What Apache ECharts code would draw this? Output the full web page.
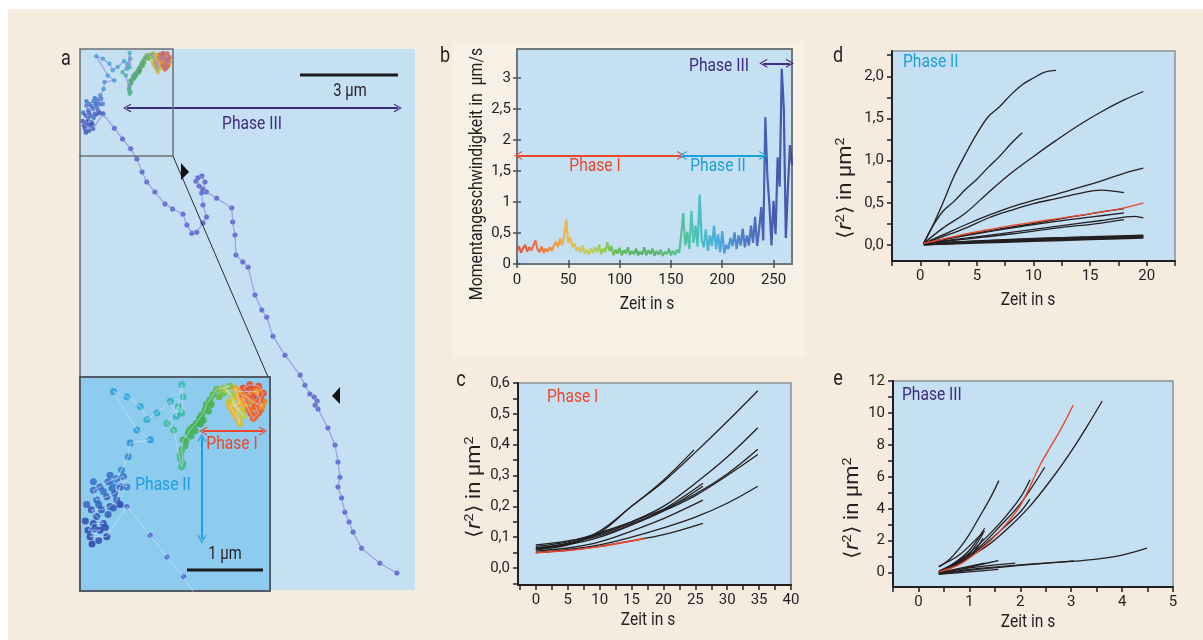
<!DOCTYPE html>
<html>
<head>
<meta charset="utf-8">
<script src="https://cdn.jsdelivr.net/npm/echarts@6.0.0/dist/echarts.min.js"></script>
<style>
html, body { margin: 0; padding: 0; background: #fff; }
#chart { width: 1203px; height: 640px; }
</style>
</head>
<body>
<div id="chart"></div>
<script>
// --- data -------------------------------------------------------------

// panel a: colored part of the trajectory in time order (µm from the top-left corner, time in s)
const clusterX = [2.59, 2.44, 2.54, 2.67, 2.74, 2.69, 2.62, 2.67, 2.59, 2.52, 2.42, 2.49, 2.57, 2.72, 2.64,
  2.37, 2.32, 2.39, 2.24, 2.32, 2.39, 2.34, 2.27, 2.44, 2.19, 2.27, 2.14,
  2.24, 2.04, 1.99, 1.94, 1.89, 1.87, 1.82, 1.79, 1.74, 1.69, 1.64, 1.62, 1.54, 1.52, 1.54, 1.52,
  1.40, 1.30, 1.47, 1.52, 1.54, 1.52, 1.44, 1.35,
  1.15, 1.00, 0.90, 0.70, 0.50, 0.85, 1.05, 0.75, 0.72, 0.62, 0.50, 0.70,
  0.65, 0.55, 0.42, 0.30, 0.20, 0.25, 0.40, 0.52, 0.60, 0.55, 0.45, 0.32, 0.17, 0.25, 0.35, 0.20, 0.12, 0.30, 0.15, 0.40];
const clusterY = [0.30, 0.17, 0.12, 0.14, 0.25, 0.35, 0.45, 0.55, 0.63, 0.50, 0.27, 0.30, 0.37, 0.45, 0.22,
  0.22, 0.17, 0.40, 0.45, 0.58, 0.71, 0.50, 0.37, 0.60, 0.19, 0.27, 0.17,
  0.14, 0.19, 0.27, 0.35, 0.42, 0.50, 0.58, 0.63, 0.71, 0.76, 0.81, 0.86, 0.96, 1.11, 1.32, 1.37,
  0.81, 0.71, 0.45, 0.55, 0.30, 0.12, 0.60, 0.37,
  0.55, 0.65, 0.45, 0.30, 0.22, 0.81, 0.96, 1.01, 1.22, 1.42, 1.62, 1.68,
  1.52, 1.55, 1.60, 1.68, 1.73, 1.88, 1.83, 1.78, 1.68, 1.88, 1.98, 2.03, 2.03, 2.13, 2.24, 2.24, 2.34, 2.34, 2.44, 2.44];
const clusterT = [0, 3, 5, 8, 10, 13, 16, 18, 21, 24, 27, 29, 32, 35, 38,
  41, 44, 47, 50, 54, 58, 62, 66, 70, 74, 78, 82,
  86, 91, 96, 101, 106, 111, 116, 121, 126, 131, 136, 141, 146, 151, 156, 160,
  164, 167, 170, 172, 175, 177, 180, 183,
  186, 188, 191, 193, 196, 198, 201, 203, 205, 207, 210, 212,
  214, 215, 217, 218, 219, 221, 222, 223, 225, 226, 227, 229, 230, 231, 233, 234, 235, 237, 238, 240];

// panel a: more positions inside the dense clusters (points only)
const fillX = [2.50, 2.60, 2.70, 2.65, 2.55, 2.62, 2.70, 2.48, 2.56, 2.68, 2.75, 2.58,
  2.42, 2.46, 2.35, 2.28, 2.36, 2.30, 2.42, 2.22,
  2.14, 2.08, 1.96, 1.92, 1.84, 1.80, 1.72, 1.66, 1.58, 1.57, 1.50, 1.50,
  0.20, 0.35, 0.48, 0.28, 0.10, 0.42, 0.50, 0.22, 0.28, 0.08, 0.38, 0.18, 0.60, 0.45];
const fillY = [0.20, 0.18, 0.30, 0.40, 0.55, 0.60, 0.50, 0.40, 0.25, 0.20, 0.38, 0.48,
  0.32, 0.45, 0.30, 0.52, 0.65, 0.42, 0.52, 0.38,
  0.25, 0.30, 0.42, 0.52, 0.66, 0.72, 0.82, 0.90, 0.98, 1.05, 1.20, 1.25,
  1.60, 1.75, 1.70, 1.95, 1.95, 2.10, 2.00, 2.32, 2.50, 2.20, 2.30, 2.55, 1.95, 1.50];
const fillT = [2, 6, 9, 12, 15, 19, 22, 25, 28, 31, 34, 37,
  42, 45, 48, 52, 56, 60, 64, 68,
  88, 93, 103, 108, 118, 123, 133, 138, 143, 148, 153, 158,
  215, 216, 218, 220, 222, 224, 226, 228, 232, 234, 236, 239, 239, 216];

// panel a: phase III path (µm)
const pathX = [0.70, 1.05, 1.30, 1.55, 1.74, 1.90, 2.04, 2.29, 2.60, 2.83, 3.15, 3.27, 3.42, 3.57, 3.76, 3.87,
  3.76, 3.72, 3.64, 3.55, 3.61, 3.73, 3.82, 3.76, 3.87, 4.18, 4.64, 4.67, 4.74, 4.77, 4.98, 5.14, 5.35,
  5.56, 5.71, 5.90, 6.27, 6.73, 6.88, 7.03, 7.16, 7.25, 7.19, 7.28, 7.58, 7.80, 7.89, 7.95, 7.89, 8.00,
  8.10, 8.23, 8.35, 8.61, 9.17, 9.69];
const pathY = [1.98, 2.42, 2.75, 3.05, 3.36, 3.76, 4.07, 4.37, 4.74, 4.89, 5.05, 5.38, 5.63, 5.60, 5.32, 5.14,
  4.77, 4.40, 4.19, 4.04, 3.94, 3.88, 4.07, 4.28, 4.37, 4.56, 4.86, 5.29, 5.69, 6.30, 6.51, 6.67, 7.52,
  7.98, 8.20, 8.78, 9.36, 9.97, 10.28, 10.55, 10.64, 10.76, 10.89, 11.01, 11.59, 12.11, 12.63, 13.09, 13.39, 13.73,
  14.16, 14.46, 14.77, 15.26, 15.72, 16.02];

// panel b: instantaneous velocity (µm/s), one value every velStep seconds
const velStep = 2;
const velValues = [0.22, 0.28, 0.18, 0.26, 0.31, 0.2, 0.27, 0.22, 0.3, 0.38,
  0.24, 0.19, 0.28, 0.18, 0.25, 0.2, 0.27, 0.21, 0.3, 0.36,
  0.27, 0.41, 0.3, 0.46, 0.72, 0.34, 0.43, 0.27, 0.33, 0.21,
  0.27, 0.19, 0.3, 0.17, 0.23, 0.15, 0.25, 0.18, 0.27, 0.19,
  0.31, 0.16, 0.25, 0.19, 0.35, 0.21, 0.29, 0.14, 0.23, 0.17,
  0.26, 0.14, 0.22, 0.17, 0.27, 0.15, 0.21, 0.16, 0.25, 0.14,
  0.2, 0.15, 0.27, 0.14, 0.22, 0.16, 0.25, 0.13, 0.21, 0.15,
  0.23, 0.13, 0.2, 0.16, 0.25, 0.14, 0.21, 0.15, 0.23, 0.18,
  0.46, 0.82, 0.3, 0.52, 0.24, 0.86, 0.34, 0.62, 0.28, 1.12,
  0.38, 0.27, 0.56, 0.21, 0.46, 0.29, 0.62, 0.24, 0.48, 0.19,
  0.53, 0.17, 0.31, 0.24, 0.42, 0.29, 0.51, 0.24, 0.46, 0.3,
  0.57, 0.27, 0.46, 0.3, 0.62, 0.34, 0.76, 0.29, 0.56, 0.92,
  0.38, 2.37, 1.42, 0.95, 0.3, 1.02, 0.48, 1.72, 1.25, 3.15,
  2.52, 0.42, 1.22, 1.92, 1.6];
const velTicksX = [0, 50, 100, 150, 200, 250];
const velTicksY = [0, 0.5, 1, 1.5, 2, 2.5, 3];
const timeColors = ['#e8432b', '#ee6a2a', '#f3b22a', '#b9cf3a', '#52b448', '#3fae4c',
  '#48b55a', '#3cbfa6', '#2ea7de', '#3d6cc4', '#2f46a6', '#3b3a9c'];

// panel c: MSD curves phase I, [t in s, <r2> in µm2]
const phaseI = [
  [[0, 0.065], [5, 0.078], [10, 0.115], [15, 0.2], [20, 0.28], [25, 0.375], [30, 0.475], [34.8, 0.575]],
  [[0, 0.06], [5, 0.075], [10, 0.12], [15, 0.2], [20, 0.285], [24.8, 0.383]],
  [[0, 0.06], [5, 0.08], [10, 0.11], [15, 0.15], [20, 0.2], [25, 0.275], [30, 0.36], [34.8, 0.455]],
  [[0, 0.07], [5, 0.085], [10, 0.115], [15, 0.15], [20, 0.19], [25, 0.24], [30, 0.305], [34.8, 0.385]],
  [[0, 0.075], [5, 0.088], [10, 0.11], [15, 0.145], [20, 0.185], [25, 0.235], [30, 0.3], [34.8, 0.368]],
  [[0, 0.06], [5, 0.075], [10, 0.1], [15, 0.14], [20, 0.19], [26.2, 0.275]],
  [[0, 0.065], [5, 0.08], [10, 0.105], [15, 0.14], [20, 0.185], [26.2, 0.265]],
  [[0, 0.055], [5, 0.065], [10, 0.085], [15, 0.12], [20, 0.16], [26.2, 0.22]],
  [[0, 0.05], [5, 0.06], [10, 0.075], [15, 0.1], [20, 0.13], [25, 0.165], [30, 0.21], [34.8, 0.265]],
  [[0, 0.05], [5, 0.057], [10, 0.07], [15, 0.088], [20, 0.108], [26.2, 0.145]]
];
const phaseIRed = [[0, 0.05], [5, 0.057], [10, 0.07], [15, 0.088], [17, 0.097]];
const cTicksX = [-2.5, 0, 2.5, 5, 7.5, 10, 12.5, 15, 17.5, 20, 22.5, 25, 27.5, 30, 32.5, 35, 37.5, 40];
const cLabelsX = [0, 5, 10, 15, 20, 25, 30, 35, 40];
const cTicksY = [-0.05, 0, 0.05, 0.1, 0.15, 0.2, 0.25, 0.3, 0.35, 0.4, 0.45, 0.5, 0.55, 0.6];
const cLabelsY = [0, 0.1, 0.2, 0.3, 0.4, 0.5, 0.6];

// panel d: MSD curves phase II
const phaseII = [
  [[0.3, 0.02], [1, 0.2], [2, 0.5], [3, 0.82], [4, 1.08], [5, 1.32], [6, 1.52], [7, 1.64], [8, 1.78], [9, 1.9], [10, 1.98], [11, 2.05], [12, 2.07]],
  [[0.3, 0.02], [1, 0.2], [2, 0.4], [3, 0.52], [4, 0.66], [5, 0.78], [6, 0.92], [7, 1.05], [8, 1.2], [9, 1.33]],
  [[0.3, 0.02], [2, 0.2], [4, 0.38], [6, 0.62], [8, 0.85], [10, 1.05], [12, 1.24], [14, 1.42], [16, 1.58], [18, 1.72], [19.7, 1.82]],
  [[0.3, 0.02], [2, 0.12], [4, 0.24], [6, 0.35], [8, 0.45], [10, 0.53], [12, 0.6], [14, 0.68], [16, 0.76], [18, 0.85], [19.7, 0.91]],
  [[0.3, 0.02], [2, 0.1], [4, 0.2], [6, 0.32], [8, 0.41], [10, 0.49], [12, 0.55], [14, 0.61], [16, 0.65], [18, 0.62]],
  [[0.3, 0.02], [4, 0.12], [8, 0.21], [12, 0.3], [15, 0.37], [18, 0.43]],
  [[0.3, 0.02], [4, 0.11], [8, 0.2], [12, 0.28], [15, 0.33], [18, 0.38]],
  [[0.3, 0.02], [4, 0.08], [8, 0.15], [12, 0.22], [16, 0.29], [19, 0.34], [19.7, 0.32]],
  [[0.3, 0.02], [4, 0.07], [8, 0.13], [12, 0.2], [16, 0.26], [18, 0.3]]
];
const phaseIIThick = [
  [[0.3, 0.01], [5, 0.04], [10, 0.07], [15, 0.09], [19.7, 0.11]],
  [[0.3, 0.01], [5, 0.03], [10, 0.05], [15, 0.07], [19.7, 0.09]],
  [[0.3, 0.01], [6, 0.045], [12, 0.075], [19.7, 0.1]]
];
const phaseIIRed = [[0.3, 0.02], [2, 0.07], [4, 0.13], [6, 0.18], [8, 0.23], [10, 0.27], [12, 0.31], [14, 0.35], [16, 0.39], [18, 0.44], [19.7, 0.5]];
const dTicksX = [-2.5, 0, 2.5, 5, 7.5, 10, 12.5, 15, 17.5, 20, 22.5];
const dLabelsX = [0, 5, 10, 15, 20];
const dTicksY = [0, 0.25, 0.5, 0.75, 1, 1.25, 1.5, 1.75, 2, 2.25];
const dLabelsY = [0, 0.5, 1, 1.5, 2];

// panel e: MSD curves phase III
const phaseIII = [
  [[0.4, 0.35], [0.6, 0.8], [0.8, 1.5], [1.0, 2.4], [1.2, 3.5], [1.4, 4.6], [1.58, 5.76]],
  [[0.4, 0.0], [0.9, 0.8], [1.4, 1.8], [1.8, 2.9], [2.2, 4.2], [2.6, 5.8], [3.0, 7.6], [3.3, 9.1], [3.61, 10.75]],
  [[0.4, 0.05], [0.8, 0.7], [1.2, 1.6], [1.6, 2.9], [2.0, 4.3], [2.48, 6.6]],
  [[0.4, 0.05], [0.8, 0.75], [1.2, 1.8], [1.6, 3.1], [2.0, 4.7], [2.19, 5.82]],
  [[0.4, 0.0], [0.8, 0.6], [1.2, 1.5], [1.6, 2.6], [2.0, 3.8], [2.19, 4.6]],
  [[0.4, 0.1], [0.7, 0.6], [1.0, 1.4], [1.3, 2.78]],
  [[0.4, 0.05], [0.7, 0.5], [1.0, 1.2], [1.27, 2.47]],
  [[0.4, 0.0], [0.7, 0.4], [1.0, 1.0], [1.27, 2.15]],
  [[0.4, 0.4], [0.8, 1.1], [1.2, 2.3], [1.3, 2.6]],
  [[0.4, -0.1], [1.0, 0.2], [1.5, 0.35], [2.0, 0.48], [2.5, 0.6], [3.0, 0.7], [3.5, 0.85], [4.0, 1.1], [4.49, 1.53]],
  [[0.4, -0.1], [1.0, 0.15], [2.0, 0.45], [3.05, 0.73]],
  [[0.4, -0.1], [1.0, 0.35], [1.57, 0.75]],
  [[0.4, -0.05], [1.0, 0.3], [1.9, 0.6]],
  [[0.4, 0.0], [1.3, 0.6]],
  [[0.4, -0.1], [1.0, 0.05], [1.57, 0.2]]
];
const phaseIIIRed = [[0.4, 0.05], [0.8, 0.5], [1.2, 1.4], [1.6, 2.6], [2.0, 4.2], [2.4, 6.8], [2.8, 9.0], [3.04, 10.5]];
const eTicksX = [-0.5, 0, 0.5, 1, 1.5, 2, 2.5, 3, 3.5, 4, 4.5, 5];
const eLabelsX = [0, 1, 2, 3, 4, 5];
const eTicksY = [0, 1, 2, 3, 4, 5, 6, 7, 8, 9, 10, 11, 12];
const eLabelsY = [0, 2, 4, 6, 8, 10, 12];

// --- styling helpers ---------------------------------------------------

const FONT = 'Roboto, sans-serif';
const SQUEEZE = 0.82; // the original uses a condensed face
const INK = '#231f20';
const RED = '#e8482c';
const CYAN = '#1d9fdc';
const PURPLE = '#3d2c7d';
const chevron = 'path://M0,10 L5,0 L10,10 L8.6,10 L5,2.6 L1.4,10 Z';
const comma1 = v => v.toFixed(1).replace('.', ',');
const commaShort = v => (Number.isInteger(v) ? String(v) : String(v).replace('.', ','));

function hiddenAxis(grid, min, max, inverse) {
  return { type: 'value', gridIndex: grid, min, max, inverse: !!inverse, show: false };
}

function msdAxis(grid, min, max, ticks, labels, fmt) {
  return {
    type: 'value', gridIndex: grid, min, max,
    splitLine: { show: false },
    axisLine: { show: true, onZero: false, lineStyle: { color: INK, width: 2 } },
    axisTick: { show: true, inside: false, length: 5, customValues: ticks, lineStyle: { color: INK, width: 1.5 } },
    axisLabel: { customValues: labels, formatter: fmt, color: INK, fontFamily: FONT, fontSize: 15, margin: 8 }
  };
}

function curves(list, grid, color, width, z) {
  return list.map(pts => ({
    type: 'line', xAxisIndex: grid, yAxisIndex: grid, data: pts, smooth: 0.35,
    symbol: 'none', silent: true, z: z, lineStyle: { color: color, width: width }
  }));
}

function label(text, x, y, color, size, align) {
  return {
    type: 'text', x, y, z: 100, scaleX: SQUEEZE,
    style: { text, fill: color, fontFamily: FONT, fontSize: size, align: align || 'center', verticalAlign: 'middle' }
  };
}

function msdName(x, y) {
  return {
    type: 'text', x, y, z: 100, rotation: Math.PI / 2, scaleX: 1.1,
    style: {
      text: '{n|⟨}{i|r}{s|2}{n|⟩ in µm}{s|2}',
      fill: INK, fontFamily: FONT, fontSize: 20, align: 'center', verticalAlign: 'middle',
      rich: {
        n: { fontFamily: FONT, fontSize: 20, fill: INK, lineHeight: 24 },
        i: { fontFamily: FONT, fontSize: 20, fontStyle: 'italic', fill: INK, lineHeight: 24 },
        s: { fontFamily: FONT, fontSize: 13, fill: INK, verticalAlign: 'top', lineHeight: 14 }
      }
    }
  };
}

// --- chart -------------------------------------------------------------

const chart = echarts.init(document.getElementById('chart'));

const clusterData = clusterX.map((x, i) => [x, clusterY[i], clusterT[i]]);
const fillData = fillX.map((x, i) => [x, fillY[i], fillT[i]]);
const pathData = pathX.map((x, i) => [x, pathY[i]]);
const lineData = clusterData.map(d => [d[0], d[1]]).concat(pathData);
const velData = velValues.map((v, i) => [i * velStep, v]);
const pathStyle = { color: '#2f52c2', borderColor: 'rgba(190,150,230,0.6)', borderWidth: 0.8 };

const option = {
  animation: false,
  backgroundColor: '#ffffff',
  grid: [
    { left: 80, top: 49, width: 335, height: 541, show: true, backgroundColor: '#c6e0f3', borderWidth: 0 },
    { left: 80, top: 377, width: 190, height: 214, show: true, backgroundColor: '#8dcbef', borderColor: '#545b62', borderWidth: 2 },
    { left: 517, top: 49, width: 275, height: 215, show: true, backgroundColor: '#c6e0f3', borderColor: '#6f767c', borderWidth: 2 },
    { left: 518, top: 383, width: 273, height: 202, show: true, backgroundColor: '#c6e0f3', borderColor: '#8a9096', borderWidth: 1.5 },
    { left: 892, top: 51, width: 283, height: 210, show: true, backgroundColor: '#c6e0f3', borderColor: '#8a9096', borderWidth: 1.5 },
    { left: 893, top: 381, width: 280, height: 206, show: true, backgroundColor: '#c6e0f3', borderColor: '#8a9096', borderWidth: 1.5 }
  ],
  xAxis: [
    hiddenAxis(0, 0, 10.245),
    hiddenAxis(1, 0, 2.84),
    {
      type: 'value', gridIndex: 2, min: 0, max: 268, splitLine: { show: false },
      axisLine: { show: false },
      axisTick: { show: true, inside: true, length: 4, customValues: velTicksX, lineStyle: { color: '#4a5056', width: 1.5 } },
      axisLabel: { customValues: velTicksX, color: INK, fontFamily: FONT, fontSize: 15, margin: 9 }
    },
    msdAxis(3, -2.8, 40, cTicksX, cLabelsX, v => String(v)),
    msdAxis(4, -2.5, 22.5, dTicksX, dLabelsX, v => String(v)),
    msdAxis(5, -0.5, 5, eTicksX, eLabelsX, v => String(v)),
    {
      type: 'value', gridIndex: 2, position: 'top', min: 0, max: 268, splitLine: { show: false },
      axisLine: { show: false }, axisLabel: { show: false },
      axisTick: { show: true, inside: true, length: 4, customValues: velTicksX, lineStyle: { color: '#4a5056', width: 1.5 } }
    }
  ],
  yAxis: [
    hiddenAxis(0, 0, 16.54, true),
    hiddenAxis(1, 0, 3.27, true),
    {
      type: 'value', gridIndex: 2, min: 0, max: 3.47, splitLine: { show: false },
      axisLine: { show: false },
      axisTick: { show: true, inside: true, length: 4, customValues: velTicksY, lineStyle: { color: '#4a5056', width: 1.5 } },
      axisLabel: { customValues: velTicksY, formatter: commaShort, color: INK, fontFamily: FONT, fontSize: 15, margin: 6 }
    },
    msdAxis(3, -0.055, 0.6, cTicksY, cLabelsY, comma1),
    msdAxis(4, -0.19, 2.3, dTicksY, dLabelsY, comma1),
    msdAxis(5, -0.9, 12, eTicksY, eLabelsY, v => String(v)),
    {
      type: 'value', gridIndex: 2, position: 'right', min: 0, max: 3.47, splitLine: { show: false },
      axisLine: { show: false }, axisLabel: { show: false },
      axisTick: { show: true, inside: true, length: 4, customValues: velTicksY, lineStyle: { color: '#4a5056', width: 1.5 } }
    }
  ],
  visualMap: [
    { type: 'continuous', show: false, seriesIndex: 8, dimension: 0, min: 0, max: 268, inRange: { color: timeColors } },
    { type: 'continuous', show: false, seriesIndex: [1, 2, 5, 6], dimension: 2, min: 0, max: 268, inRange: { color: timeColors } }
  ],
  series: [
    // 0-3: panel a, full view
    { type: 'line', xAxisIndex: 0, yAxisIndex: 0, data: lineData, symbol: 'none', silent: true,
      lineStyle: { color: 'rgba(140,135,220,0.75)', width: 1.2 } },
    { type: 'scatter', xAxisIndex: 0, yAxisIndex: 0, data: fillData, symbolSize: 4.5, silent: true },
    { type: 'scatter', xAxisIndex: 0, yAxisIndex: 0, data: clusterData, symbolSize: 4.5, silent: true },
    { type: 'scatter', xAxisIndex: 0, yAxisIndex: 0, data: pathData, symbolSize: 5, silent: true, itemStyle: pathStyle,
      markLine: {
        silent: true, symbol: [chevron, chevron], symbolSize: [9, 8], label: { show: false },
        lineStyle: { color: PURPLE, width: 2, type: 'solid' },
        data: [[{ coord: [1.44, 1.8] }, { coord: [9.72, 1.8] }]]
      } },
    // 4-7: panel a, inset
    { type: 'line', xAxisIndex: 1, yAxisIndex: 1, data: lineData, symbol: 'none', silent: true,
      lineStyle: { color: 'rgba(215,225,250,0.6)', width: 1 } },
    { type: 'scatter', xAxisIndex: 1, yAxisIndex: 1, data: fillData, symbolSize: 7, silent: true, itemStyle: { opacity: 0.9 } },
    { type: 'scatter', xAxisIndex: 1, yAxisIndex: 1, data: clusterData, symbolSize: 7, silent: true, itemStyle: { opacity: 0.9 },
      markLine: {
        silent: true, symbol: [chevron, chevron], symbolSize: [9, 8], label: { show: false },
        data: [
          [{ coord: [1.84, 0.825], lineStyle: { color: RED, width: 2, type: 'solid' } }, { coord: [2.74, 0.825] }],
          [{ coord: [1.82, 0.93], lineStyle: { color: CYAN, width: 2, type: 'solid' } }, { coord: [1.82, 2.48] }]
        ]
      } },
    { type: 'scatter', xAxisIndex: 1, yAxisIndex: 1, data: pathData, symbolSize: 5, silent: true, itemStyle: pathStyle },
    // 8: panel b velocity
    { type: 'line', xAxisIndex: 2, yAxisIndex: 2, data: velData, symbol: 'none', silent: true,
      lineStyle: { width: 2.2, opacity: 0.85 },
      markLine: {
        silent: true, symbol: [chevron, chevron], symbolSize: [9, 8], label: { show: false },
        data: [
          [{ coord: [1, 1.75], lineStyle: { color: RED, width: 2, type: 'solid' } }, { coord: [160, 1.75] }],
          [{ coord: [161.5, 1.75], lineStyle: { color: CYAN, width: 2, type: 'solid' } }, { coord: [240, 1.75] }],
          [{ coord: [240, 3.24], lineStyle: { color: PURPLE, width: 2, type: 'solid' } }, { coord: [266, 3.24] }]
        ]
      } }
  ]
    .concat(curves(phaseI, 3, INK, 1.3, 3))
    .concat(curves([phaseIRed], 3, RED, 1.6, 4))
    .concat(curves(phaseII, 4, INK, 1.3, 3))
    .concat(curves(phaseIIThick, 4, INK, 2.6, 3))
    .concat(curves([phaseIIRed], 4, RED, 1.4, 4))
    .concat(curves(phaseIII, 5, INK, 1.3, 3))
    .concat(curves([phaseIIIRed], 5, RED, 1.4, 4)),
  graphic: [
    // page background and the lighter box behind panel b
    { type: 'rect', z: -100, shape: { x: 8, y: 9, width: 1195, height: 631 }, style: { fill: '#f5ecdf' } },
    { type: 'rect', z: -99, shape: { x: 453, y: 42, width: 352, height: 315 }, style: { fill: '#f7f0e5' } },
    // zoom box and its connecting lines
    { type: 'rect', z: 100, shape: { x: 80, y: 49, width: 93, height: 107 }, style: { fill: 'none', stroke: '#6a7076', lineWidth: 1.5 } },
    { type: 'line', z: 100, shape: { x1: 80, y1: 156, x2: 80, y2: 377 }, style: { stroke: '#2b2b2b', lineWidth: 1 } },
    { type: 'line', z: 100, shape: { x1: 173, y1: 156, x2: 268, y2: 377 }, style: { stroke: '#2b2b2b', lineWidth: 1 } },
    // arrow heads marking the pauses
    { type: 'polygon', z: 100, shape: { points: [[181, 163], [189, 172], [181, 180]] }, style: { fill: '#111' } },
    { type: 'polygon', z: 100, shape: { points: [[340, 387], [332, 396], [340, 404]] }, style: { fill: '#111' } },
    // scale bars
    { type: 'line', z: 100, shape: { x1: 300, y1: 75, x2: 398, y2: 75 }, style: { stroke: '#1a1a1a', lineWidth: 3 } },
    { type: 'line', z: 100, shape: { x1: 187, y1: 570, x2: 263, y2: 570 }, style: { stroke: '#1a1a1a', lineWidth: 3 } },
    label('3 µm', 350, 91, INK, 18),
    label('1 µm', 225, 554, INK, 18),
    label('Phase III', 252, 124, PURPLE, 19),
    label('Phase I', 232, 444, RED, 19),
    label('Phase II', 163, 485, CYAN, 19),
    // panel b texts
    label('Phase I', 595, 166, RED, 19),
    label('Phase II', 718, 166, CYAN, 19),
    label('Phase III', 719, 66, PURPLE, 19),
    { type: 'text', x: 477, y: 174, z: 100, rotation: Math.PI / 2, scaleX: 0.88,
      style: { text: 'Momentangeschwindigkeit in  µm/s', fill: INK, fontFamily: FONT, fontSize: 18, align: 'center', verticalAlign: 'middle' } },
    label('Zeit in s', 647, 304, INK, 19),
    // panels c, d, e texts
    label('Phase I', 547, 397, RED, 19, 'left'),
    label('Phase II', 903, 62, CYAN, 19, 'left'),
    label('Phase III', 902, 395, PURPLE, 19, 'left'),
    msdName(475, 487),
    msdName(846, 188),
    msdName(853, 508),
    label('Zeit in s', 648, 620, INK, 19),
    label('Zeit in s', 1028, 300, INK, 19),
    label('Zeit in s', 1028, 622, INK, 19),
    // panel letters
    label('a', 66, 59, INK, 22),
    label('b', 445, 56, INK, 22),
    label('c', 461, 380, INK, 22),
    label('d', 838, 56, INK, 22),
    label('e', 838, 379, INK, 22)
  ]
};

chart.setOption(option);
</script>
</body>
</html>
